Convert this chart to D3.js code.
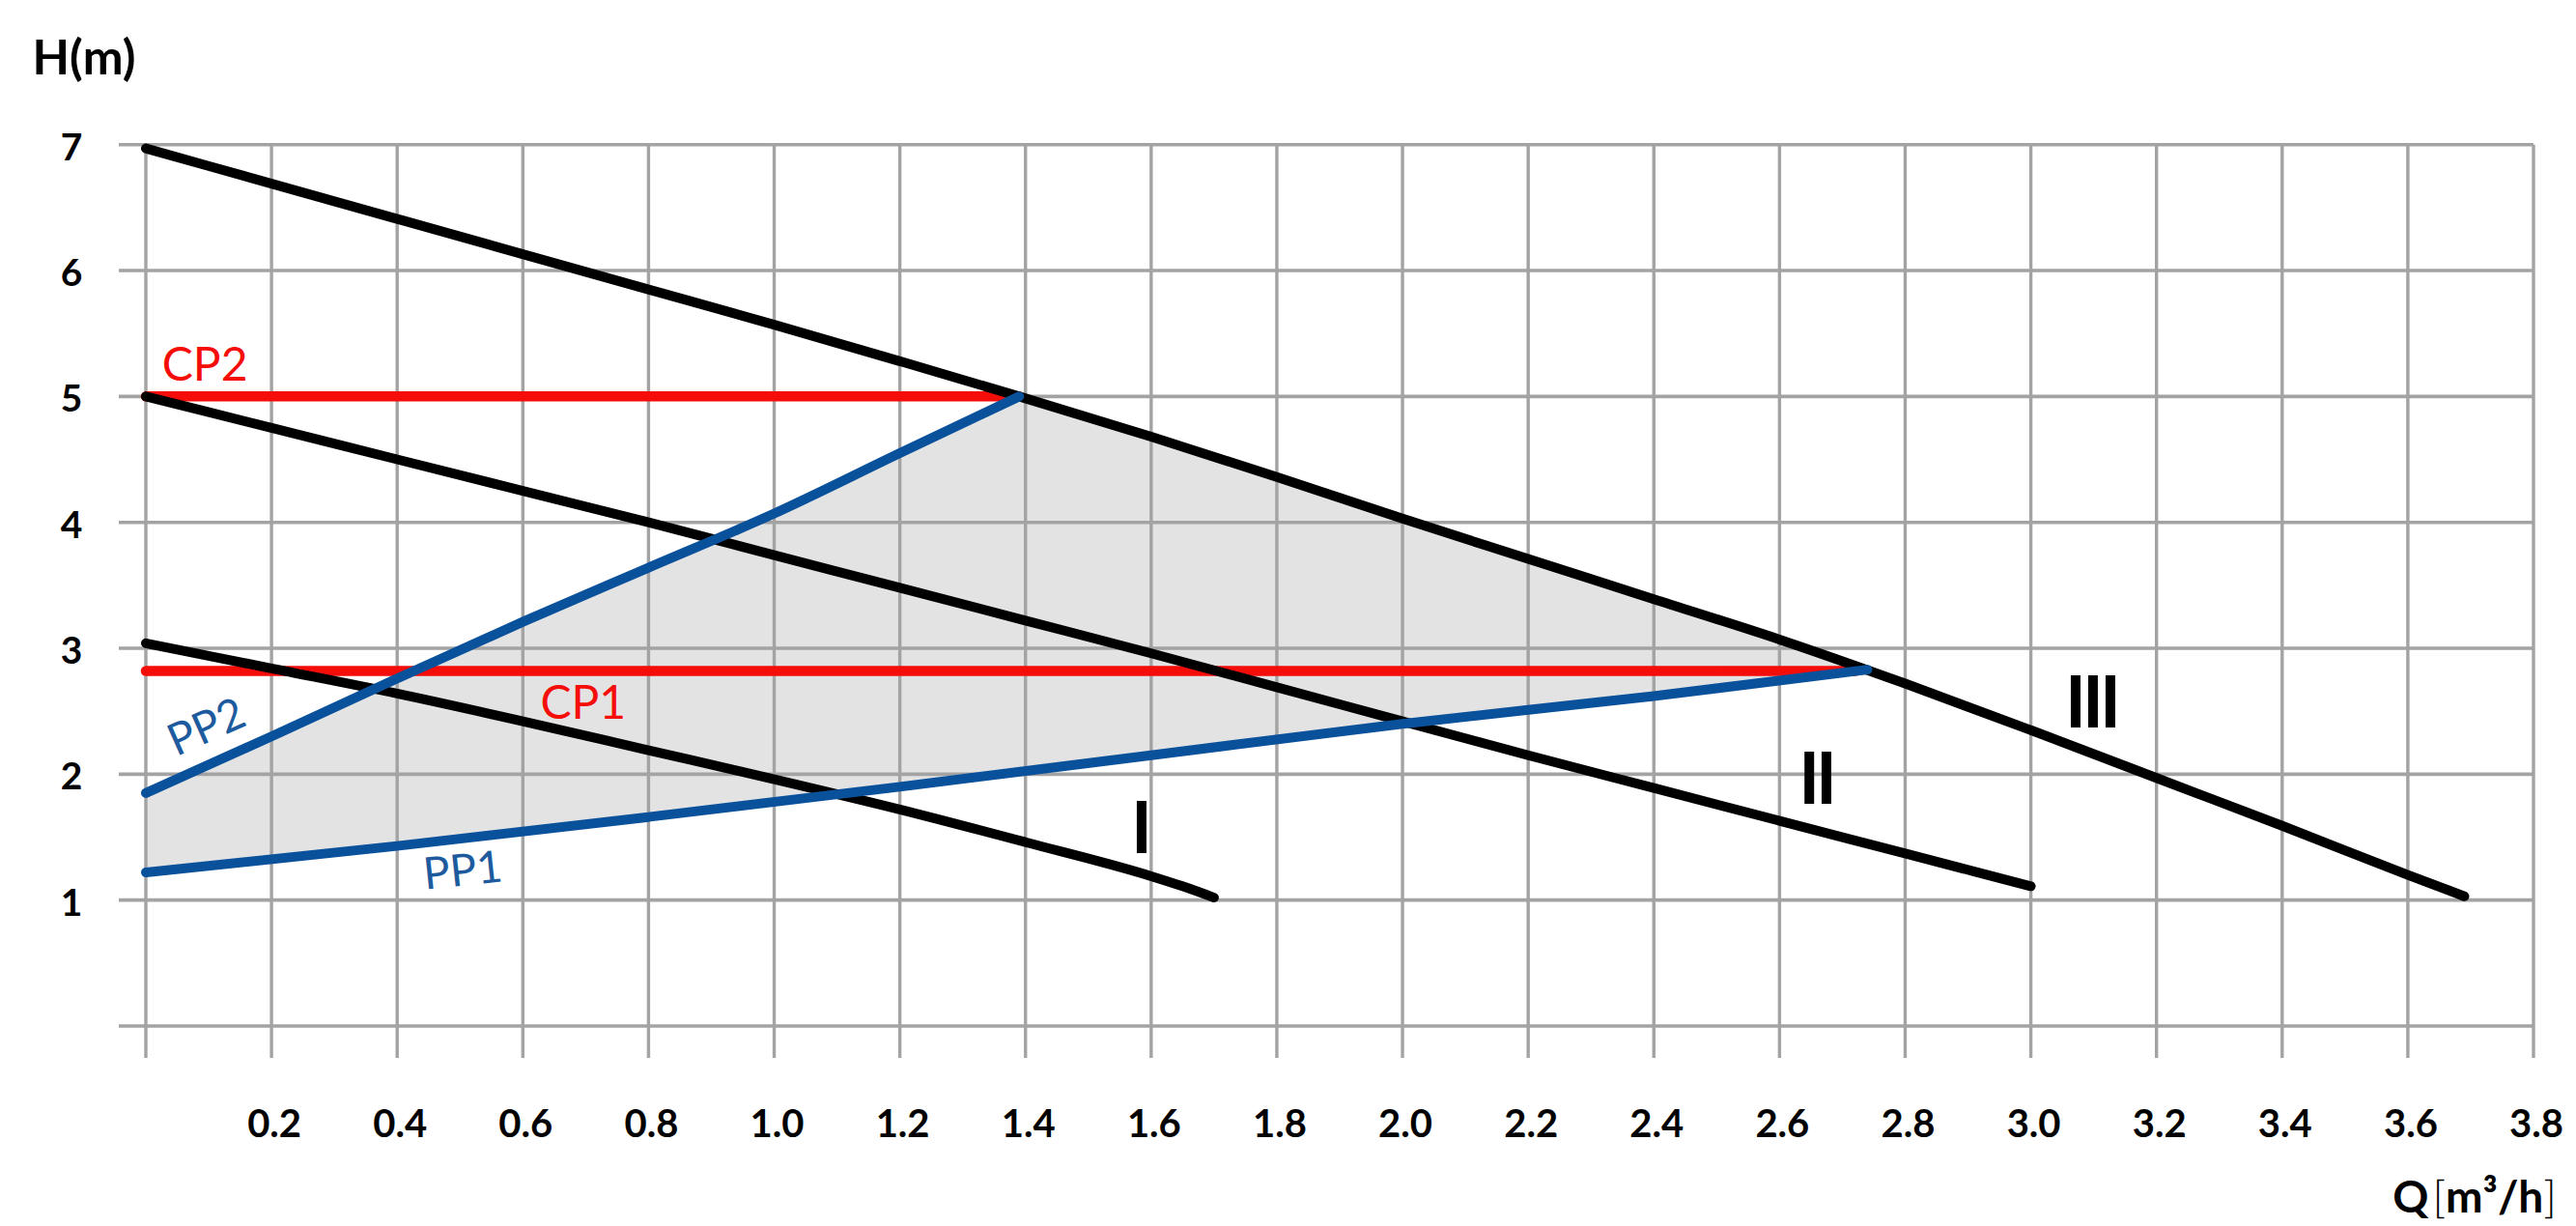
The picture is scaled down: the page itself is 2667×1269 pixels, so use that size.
<!DOCTYPE html>
<html>
<head>
<meta charset="utf-8">
<script src="https://cdn.jsdelivr.net/npm/d3@7"></script>
<style>
  html, body { margin: 0; padding: 0; background: #ffffff; }
  svg { display: block; }
  text { font-family: Lato, "Noto Sans", "DejaVu Sans", sans-serif; }
</style>
</head>
<body>
<svg id="chart" width="2667" height="1269"></svg>
<script>
// Pump performance chart: head H (m) against flow Q (m³/h)

// Grid and tick values
const flowGrid = [0, 0.2, 0.4, 0.6, 0.8, 1.0, 1.2, 1.4, 1.6, 1.8, 2.0, 2.2, 2.4, 2.6, 2.8, 3.0, 3.2, 3.4, 3.6, 3.8];
const flowTickLabels = ["0.2", "0.4", "0.6", "0.8", "1.0", "1.2", "1.4", "1.6", "1.8", "2.0",
                        "2.2", "2.4", "2.6", "2.8", "3.0", "3.2", "3.4", "3.6", "3.8"];
const headGrid = [0, 1, 2, 3, 4, 5, 6, 7];
const headTickLabels = ["1", "2", "3", "4", "5", "6", "7"];

// Speed curves I, II, III  [Q, H]
const speedI = [[0, 3.04], [0.2, 2.84], [0.4, 2.64], [0.6, 2.42], [0.8, 2.19], [1.0, 1.96],
                [1.2, 1.72], [1.4, 1.46], [1.6, 1.19], [1.65, 1.11], [1.7, 1.02]];
const speedII = [[0, 5.0], [0.2, 4.75], [0.4, 4.5], [0.6, 4.25], [0.8, 4.0], [1.0, 3.74],
                 [1.2, 3.48], [1.4, 3.22], [1.6, 2.96], [1.8, 2.69], [2.0, 2.42], [2.2, 2.15],
                 [2.4, 1.89], [2.6, 1.63], [2.8, 1.37], [3.0, 1.11]];
const speedIII = [[0, 6.97], [0.2, 6.69], [0.4, 6.41], [0.6, 6.13], [0.8, 5.85], [1.0, 5.57],
                  [1.2, 5.28], [1.39, 5.0], [1.6, 4.68], [1.8, 4.36], [2.0, 4.03], [2.2, 3.71],
                  [2.4, 3.39], [2.6, 3.07], [2.8, 2.72], [3.0, 2.35], [3.2, 1.97],
                  [3.4, 1.59], [3.6, 1.2], [3.69, 1.03]];

// Proportional pressure curves
const propPP1 = [[0, 1.22], [0.4, 1.43], [0.8, 1.66], [1.2, 1.9], [1.6, 2.15], [2.0, 2.4],
                 [2.4, 2.62], [2.74, 2.83]];
const propPP2 = [[0, 1.85], [0.2, 2.3], [0.4, 2.76], [0.6, 3.21], [0.8, 3.64], [1.0, 4.07],
                 [1.2, 4.55], [1.39, 5.0]];

// Constant pressure lines
const constCP1 = [[0, 2.82], [2.72, 2.82]];
const constCP2 = [[0, 5.0], [1.39, 5.0]];

const svg = d3.select("#chart");

const x = d3.scaleLinear().domain([0, 3.8]).range([151, 2623]);
const y = d3.scaleLinear().domain([0, 7]).range([1062, 149.7]);

const gridColor = "#a3a3a3";
const blue = "#0a519c";
const red = "#f50d0a";

// Operating region between PP1 and the upper envelope (PP2, then curve III)
const pp1End = propPP1[propPP1.length - 1];
const pp2End = propPP2[propPP2.length - 1];
const regionTop = speedIII.filter(d => d[0] > pp2End[0] && d[0] < pp1End[0]);
const regionPts = propPP1.concat(regionTop.slice().reverse(), propPP2.slice().reverse());
svg.append("path")
  .attr("d", d3.line().x(d => x(d[0])).y(d => y(d[1]))(regionPts) + "Z")
  .attr("fill", "#e3e3e3")
  .attr("stroke", "none");

// Grid
const grid = svg.append("g");
grid.selectAll("line.v").data(flowGrid).join("line")
  .attr("class", "v")
  .attr("x1", d => x(d)).attr("x2", d => x(d))
  .attr("y1", y(7)).attr("y2", y(0) + 33)
  .attr("stroke", gridColor).attr("stroke-width", 3.4);
grid.selectAll("line.h").data(headGrid).join("line")
  .attr("class", "h")
  .attr("x1", x(0) - 28).attr("x2", x(3.8))
  .attr("y1", d => y(d)).attr("y2", d => y(d))
  .attr("stroke", gridColor).attr("stroke-width", 3.6);

// Tick labels
svg.append("g").selectAll("text").data(flowTickLabels).join("text")
  .attr("x", d => x(+d) + 3)
  .attr("y", y(0) + 100)
  .attr("text-anchor", "middle")
  .attr("dominant-baseline", "central")
  .attr("font-size", 40)
  .attr("font-weight", "bold")
  .attr("fill", "#000")
  .text(d => d);

svg.append("g").selectAll("text").data(headTickLabels).join("text")
  .attr("x", 74)
  .attr("y", d => y(+d) + 1)
  .attr("text-anchor", "middle")
  .attr("dominant-baseline", "central")
  .attr("font-size", 39)
  .attr("font-weight", "bold")
  .attr("fill", "#000")
  .text(d => d);

// Axis titles
svg.append("text")
  .attr("x", 87).attr("y", 77)
  .attr("text-anchor", "middle")
  .attr("font-size", 50)
  .attr("font-weight", "bold")
  .attr("fill", "#000")
  .text("H(m)");

const qTitle = svg.append("text")
  .attr("x", 2647).attr("y", 1255)
  .attr("text-anchor", "end")
  .attr("font-size", 46)
  .attr("fill", "#000");
qTitle.append("tspan").attr("font-weight", "bold").text("Q");
qTitle.append("tspan").attr("font-weight", 300).attr("dx", 4).text("[");
qTitle.append("tspan").attr("font-weight", "bold").text("m³/h");
qTitle.append("tspan").attr("font-weight", 300).text("]");

// Curves
const line = d3.line().x(d => x(d[0])).y(d => y(d[1]));
const smooth = d3.line().x(d => x(d[0])).y(d => y(d[1])).curve(d3.curveMonotoneX);

function drawLine(data, color, width, gen) {
  svg.append("path")
    .attr("d", gen(data))
    .attr("fill", "none")
    .attr("stroke", color)
    .attr("stroke-width", width)
    .attr("stroke-linecap", "round")
    .attr("stroke-linejoin", "round");
}

drawLine(constCP2, red, 10.5, line);
drawLine(constCP1, red, 10.5, line);
drawLine(speedI, "#000", 10, smooth);
drawLine(speedII, "#000", 10, smooth);
drawLine(speedIII, "#000", 10, smooth);
drawLine(propPP1, blue, 10, smooth);
drawLine(propPP2, blue, 10, smooth);

// Curve labels
function label(txt, q, h, opts) {
  const t = svg.append("text")
    .attr("transform", `translate(${x(q)},${y(h)}) rotate(${opts.rotate || 0})`)
    .attr("text-anchor", "middle")
    .attr("dominant-baseline", "central")
    .attr("font-size", opts.size)
    .attr("font-weight", opts.weight || "normal")
    .attr("fill", opts.color)
    .text(txt);
  if (opts.spacing !== undefined) t.attr("letter-spacing", opts.spacing);
}

label("CP2", 0.094, 5.27, { size: 48, color: red });
label("CP1", 0.696, 2.58, { size: 48, color: red });
label("PP2", 0.095, 2.39, { size: 46, color: "#1d5b9e", rotate: -24 });
label("PP1", 0.504, 1.25, { size: 46, color: "#1d5b9e", rotate: -6 });
label("I", 1.585, 1.59, { size: 74, color: "#000", weight: "bold" });
label("II", 2.658, 1.98, { size: 74, color: "#000", weight: "bold", spacing: -4 });
label("III", 3.096, 2.59, { size: 74, color: "#000", weight: "bold", spacing: -4 });
</script>
</body>
</html>
